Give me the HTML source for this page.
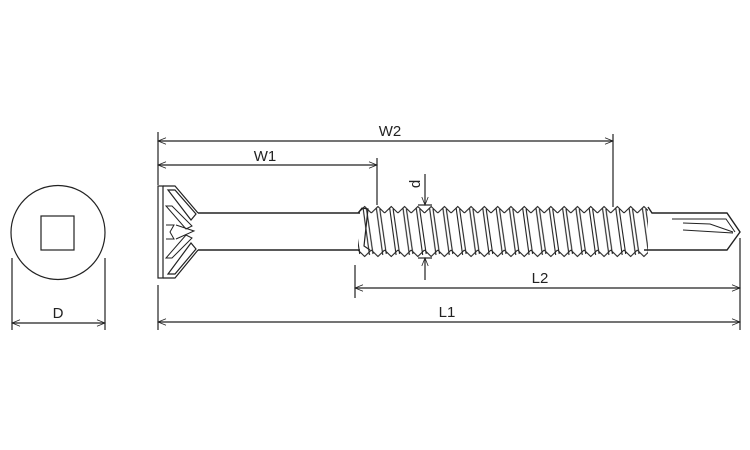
<!DOCTYPE html>
<html><head><style>body{margin:0;background:#fff}svg{display:block}text{font-family:"Liberation Sans",sans-serif;font-size:15px;fill:#222}</style></head>
<body>
<svg width="750" height="450" viewBox="0 0 750 450" xmlns="http://www.w3.org/2000/svg">
<defs>
<marker id="a" viewBox="0 0 10 10" refX="10" refY="5" markerWidth="10" markerHeight="8" orient="auto-start-reverse" markerUnits="userSpaceOnUse"><path d="M0,1 L10,5 L0,9" fill="none" stroke="#222" stroke-width="1"/></marker>
<pattern id="th" patternUnits="userSpaceOnUse" x="358" y="0" width="13.3" height="450">
<path d="M0,213 L6.65,206.5 L13.3,213 M0,250 L6.65,256.5 L13.3,250 M5,207.5 L11.5,255 M8.5,209 L15,254 M-8.3,207.5 L-1.8,255 M-4.8,209 L1.7,254" fill="none" stroke="#222" stroke-width="1.1"/>
</pattern>
</defs>
<g fill="none" stroke="#222" stroke-width="1.2">
<circle cx="58" cy="232.5" r="47"/>
<rect x="41" y="216" width="33" height="34"/>
<line x1="12" y1="258" x2="12" y2="330"/><line x1="105" y1="258" x2="105" y2="330"/>
<line x1="12" y1="323" x2="105" y2="323" marker-start="url(#a)" marker-end="url(#a)"/>
<rect x="158" y="186" width="5" height="92"/>
<path d="M163,186 L175,186 L198,213 M163,278 L175,278 L198,250"/>
<path d="M168,190 L175,190 L196,214 L191,220 Z"/>
<path d="M168,274 L175,274 L196,249 L191,243 Z"/>
<path d="M166,206 L172,206 L192,226 L186,229 Z" stroke-width="1"/>
<path d="M166,258 L172,258 L192,238 L186,235 Z" stroke-width="1"/>
<path d="M166,225 L174,225 L170,232 L174,239 L166,239 M176,225 L194,231 L176,239" stroke-width="1"/>
<line x1="198" y1="213" x2="360" y2="213" stroke-width="1.6"/>
<line x1="198" y1="250" x2="360" y2="250" stroke-width="1.6"/>
</g>
<rect x="358" y="200" width="290" height="62" fill="url(#th)"/>
<g fill="none" stroke="#222" stroke-width="1.2">
<path d="M358,213 L362,208 L368,209 L364,246 L370,250"/>
<path d="M648,207 L652,213 L727,213 L740,232 L727,250 L644,250" stroke-width="1.4"/>
<path d="M672,219 L726,219 L735,232 M683,223 L710,224 L733,232 M683,230 L733,233" stroke-width="1"/>
<line x1="158" y1="132" x2="158" y2="185"/>
<line x1="613" y1="134" x2="613" y2="207"/>
<line x1="158" y1="141" x2="613" y2="141" marker-start="url(#a)" marker-end="url(#a)"/>
<line x1="377" y1="158" x2="377" y2="205"/>
<line x1="158" y1="165" x2="377" y2="165" marker-start="url(#a)" marker-end="url(#a)"/>
<line x1="158" y1="285" x2="158" y2="330"/>
<line x1="740" y1="238" x2="740" y2="330"/>
<line x1="158" y1="322" x2="740" y2="322" marker-start="url(#a)" marker-end="url(#a)"/>
<line x1="355" y1="265" x2="355" y2="298"/>
<line x1="355" y1="288" x2="740" y2="288" marker-start="url(#a)" marker-end="url(#a)"/>
<line x1="425" y1="174" x2="425" y2="205" marker-end="url(#a)"/>
<line x1="425" y1="280" x2="425" y2="258" marker-end="url(#a)"/>
<line x1="418" y1="205" x2="432" y2="205"/><line x1="418" y1="258" x2="432" y2="258"/>
</g>
<text x="390" y="136" text-anchor="middle">W2</text>
<text x="265" y="161" text-anchor="middle">W1</text>
<text x="540" y="283" text-anchor="middle">L2</text>
<text x="447" y="317" text-anchor="middle">L1</text>
<text x="58" y="318" text-anchor="middle">D</text>
<text x="0" y="0" transform="translate(420,184) rotate(-90)" text-anchor="middle">d</text>
</svg>
</body></html>
